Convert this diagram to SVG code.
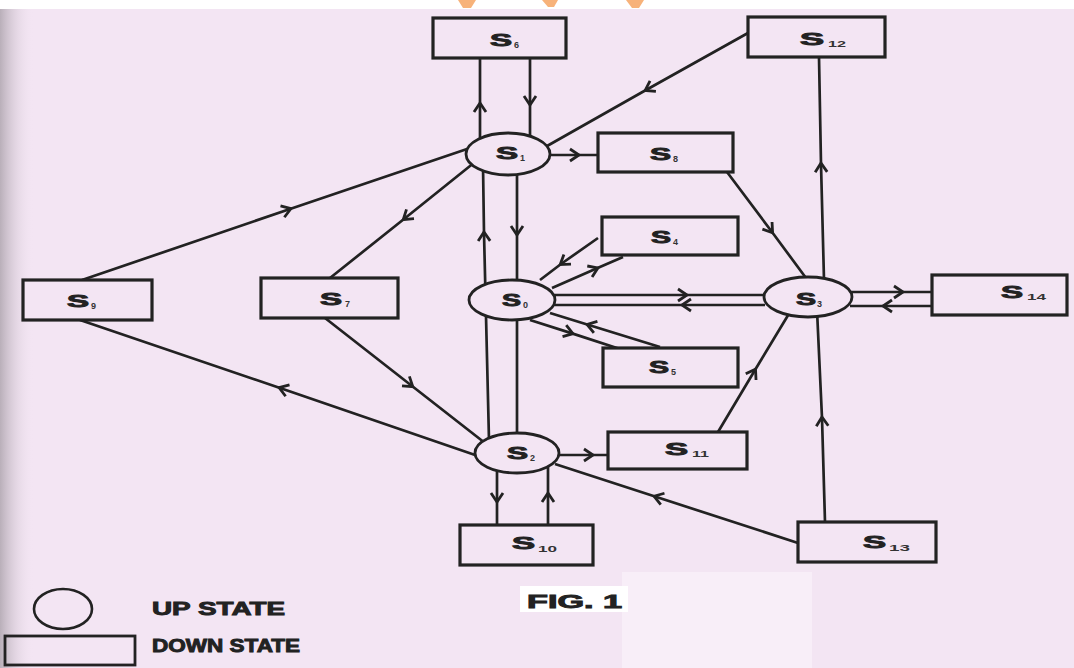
<svg xmlns="http://www.w3.org/2000/svg" width="1074" height="668" viewBox="0 0 1074 668">
<defs>
<linearGradient id="edge" x1="0" y1="0" x2="1" y2="0">
<stop offset="0" stop-color="#b9afb9"/>
<stop offset="1" stop-color="#f3e5f3" stop-opacity="0"/>
</linearGradient>
<marker id="a" viewBox="-11 -9 15 18" refX="0" refY="0" markerWidth="15" markerHeight="18" markerUnits="userSpaceOnUse" orient="auto">
<path d="M-8,-6 L1,0 L-8,6" fill="none" stroke="#222" stroke-width="2.8" stroke-linejoin="miter"/>
</marker>
<style>
.c{fill:none;stroke:#222;stroke-width:2.7;marker-mid:url(#a)}
.box{fill:#f3e5f3;stroke:#222;stroke-width:3.2}
.up{fill:#f3e5f3;stroke:#222;stroke-width:2.8}
.s{font-family:"Liberation Sans",Arial,sans-serif;font-weight:bold;font-size:16px;fill:#222;stroke:#222;stroke-width:0.9}
.sub{font-family:"Liberation Sans",Arial,sans-serif;font-weight:bold;font-size:9px;fill:#333}
.lg{font-family:"Liberation Sans",Arial,sans-serif;font-weight:900;font-size:18px;fill:#222;stroke:#222;stroke-width:0.9}
</style>
</defs>
<rect width="1074" height="668" fill="#f3e5f3"/>
<rect width="1074" height="9" fill="#ffffff"/>
<rect x="0" y="9" width="34" height="659" fill="url(#edge)"/>
<rect x="622" y="572" width="190" height="96" fill="#f8eef8"/>
<g fill="#f7b27a">
<path d="M458,0 L476,0 L471,8 L463,8 Z"/>
<path d="M542,0 L558,0 L554,7 L548,7 Z"/>
<path d="M626,0 L644,0 L639,8 L632,8 Z"/>
</g>

<g id="connectors">
<polyline class="c" points="480,140 480,104 480,58"/>
<polyline class="c" points="530,58 530,104 530,140"/>
<polyline class="c" points="748,33 646,90 540,150"/>
<polyline class="c" points="550,155 578,155 598,155"/>
<polyline class="c" points="82,280 290,209 470,148"/>
<polyline class="c" points="475,162 404,219 330,278"/>
<polyline class="c" points="325,318 412,386 485,443"/>
<polyline class="c" points="478,456 280,388 80,320"/>
<polyline class="c" points="489,440 484,233 483,165"/>
<polyline class="c" points="517,165 517,234 517,443"/>
<polyline class="c" points="497,465 497,501 497,525"/>
<polyline class="c" points="548,525 548,494 548,465"/>
<polyline class="c" points="558,455 592,455 608,455"/>
<polyline class="c" points="798,543 655,496.5 555,464"/>
<polyline class="c" points="825,522 822,418 817,310"/>
<polyline class="c" points="824,280 821,164 819,57"/>
<polyline class="c" points="727,172 772,232 806,278"/>
<polyline class="c" points="718,432 755,370 790,312"/>
<polyline class="c" points="553,295 686,295 765,295"/>
<polyline class="c" points="765,305 683,305 553,305"/>
<polyline class="c" points="850,292 902,292 932,292"/>
<polyline class="c" points="932,306 884,306 850,306"/>
<polyline class="c" points="598,238 561,264 540,280"/>
<polyline class="c" points="552,288 597,268.3 623,257"/>
<polyline class="c" points="530,320 572,333.4 623,350"/>
<polyline class="c" points="660,347 588,324.7 550,313"/>
</g>

<g id="S6"><rect class="box" x="433" y="18" width="133" height="40"/><text class="s" x="490" y="46" textLength="22" lengthAdjust="spacingAndGlyphs">S</text><text class="sub" x="514" y="48">6</text></g>
<g id="S12"><rect class="box" x="748" y="17" width="137" height="40"/><text class="s" x="800" y="45" textLength="24" lengthAdjust="spacingAndGlyphs">S</text><text class="sub" x="828" y="47" textLength="18" lengthAdjust="spacingAndGlyphs">12</text></g>
<g id="S1"><ellipse class="up" cx="508" cy="154" rx="42" ry="21"/><text class="s" x="496" y="159" textLength="22" lengthAdjust="spacingAndGlyphs">S</text><text class="sub" x="520" y="161">1</text></g>
<g id="S8"><rect class="box" x="598" y="133" width="135" height="39"/><text class="s" x="650" y="160" textLength="21" lengthAdjust="spacingAndGlyphs">S</text><text class="sub" x="673" y="162">8</text></g>
<g id="S4"><rect class="box" x="602" y="217" width="136" height="38"/><text class="s" x="651" y="243" textLength="20" lengthAdjust="spacingAndGlyphs">S</text><text class="sub" x="673" y="245">4</text></g>
<g id="S0"><ellipse class="up" cx="512" cy="300" rx="43" ry="20"/><text class="s" x="502" y="306" textLength="19" lengthAdjust="spacingAndGlyphs">S</text><text class="sub" x="523" y="308">0</text></g>
<g id="S5"><rect class="box" x="603" y="348" width="135" height="39"/><text class="s" x="649" y="373" textLength="20" lengthAdjust="spacingAndGlyphs">S</text><text class="sub" x="671" y="375">5</text></g>
<g id="S3"><ellipse class="up" cx="808" cy="297" rx="44" ry="20"/><text class="s" x="796" y="305" textLength="20" lengthAdjust="spacingAndGlyphs">S</text><text class="sub" x="817" y="307">3</text></g>
<g id="S14"><rect class="box" x="932" y="275" width="135" height="40"/><text class="s" x="1001" y="298" textLength="22" lengthAdjust="spacingAndGlyphs">S</text><text class="sub" x="1027" y="300" textLength="19" lengthAdjust="spacingAndGlyphs">14</text></g>
<g id="S9"><rect class="box" x="23" y="280" width="129" height="40"/><text class="s" x="67" y="307" textLength="22" lengthAdjust="spacingAndGlyphs">S</text><text class="sub" x="91" y="309">9</text></g>
<g id="S7"><rect class="box" x="261" y="278" width="137" height="40"/><text class="s" x="320" y="305" textLength="22" lengthAdjust="spacingAndGlyphs">S</text><text class="sub" x="345" y="307">7</text></g>
<g id="S2"><ellipse class="up" cx="517" cy="453" rx="42" ry="20"/><text class="s" x="507" y="459" textLength="21" lengthAdjust="spacingAndGlyphs">S</text><text class="sub" x="530" y="461">2</text></g>
<g id="S11"><rect class="box" x="608" y="432" width="139" height="37"/><text class="s" x="665" y="455" textLength="23" lengthAdjust="spacingAndGlyphs">S</text><text class="sub" x="692" y="457" textLength="17" lengthAdjust="spacingAndGlyphs">11</text></g>
<g id="S10"><rect class="box" x="460" y="525" width="133" height="40"/><text class="s" x="512" y="549" textLength="23" lengthAdjust="spacingAndGlyphs">S</text><text class="sub" x="538" y="552" textLength="19" lengthAdjust="spacingAndGlyphs">10</text></g>
<g id="S13"><rect class="box" x="798" y="522" width="138" height="40"/><text class="s" x="863" y="548" textLength="23" lengthAdjust="spacingAndGlyphs">S</text><text class="sub" x="889" y="551" textLength="21" lengthAdjust="spacingAndGlyphs">13</text></g>

<g id="legend">
<ellipse cx="63" cy="609" rx="29" ry="20" fill="none" stroke="#222" stroke-width="2.6"/>
<text class="lg" x="152" y="615" textLength="133" lengthAdjust="spacingAndGlyphs">UP STATE</text>
<rect x="5" y="636" width="130" height="29" fill="none" stroke="#222" stroke-width="2.8"/>
<text class="lg" x="152" y="652" textLength="148" lengthAdjust="spacingAndGlyphs">DOWN STATE</text>
<rect x="520" y="586" width="108" height="26" fill="#ffffff"/>
<text class="lg" x="527" y="608" font-size="20" textLength="95" lengthAdjust="spacingAndGlyphs">FIG. 1</text>
</g>
</svg>
